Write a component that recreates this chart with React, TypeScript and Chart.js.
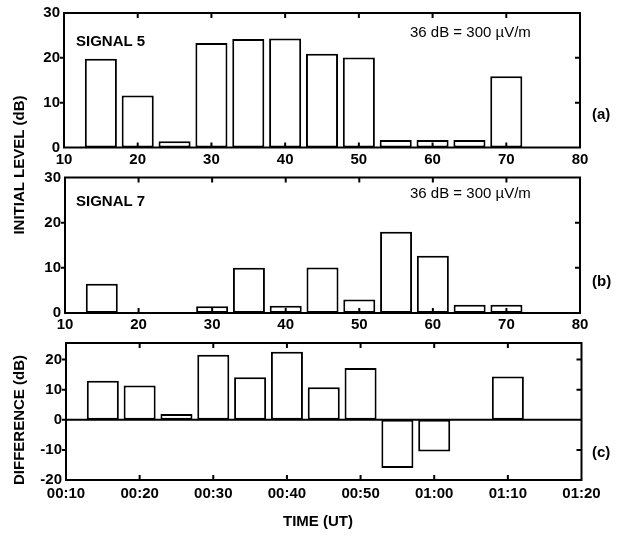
import { useEffect, useRef } from "react";
import { Chart, registerables } from "chart.js";

Chart.register(...registerables);

// Sample times (minutes after 00:00 UT), one bar per 5-minute slot
const minutes = [15, 20, 25, 30, 35, 40, 45, 50, 55, 60, 65, 70];
// Initial level of each signal, dB above 300 µV/m reference
const signal5 = [19.8, 11.6, 1.4, 23.3, 24.2, 24.3, 20.9, 20.1, 1.7, 1.7, 1.7, 15.9];
const signal7 = [6.5, null, null, 1.5, 10.0, 1.6, 10.1, 3.0, 18.0, 12.7, 1.8, 1.8];
// Signal 5 minus signal 7
const difference = [13.0, 11.4, 1.9, 21.6, 14.1, 22.6, 10.8, 17.2, -16.0, -10.5, null, 14.4];

const levelTicks = [0, 10, 20, 30];
const diffTicks = [-20, -10, 0, 10, 20];
const timeTicks = [10, 20, 30, 40, 50, 60, 70, 80];

const levelTitle = "INITIAL LEVEL (dB)";
const diffTitle = "DIFFERENCE (dB)";
const timeTitle = "TIME (UT)";
const refNote = "36 dB = 300 \u00b5V/m";

const W = 617;
const H = 536;
const Y_AXIS_W = 40;
const X_AXIS_H = 24;
const FONT = "'Liberation Sans', Arial, sans-serif";

type Area = { left: number; top: number; right: number; bottom: number };

type Panel = {
  area: Area;
  values: (number | null)[];
  yMin: number;
  yMax: number;
  yTicks: number[];
  clock: boolean;
  labelGap: number;
  tag: string;
  tagY: number;
  signal?: string;
  signalY?: number;
  noteY?: number;
  draw?: (ctx: CanvasRenderingContext2D) => void;
};

const clockLabel = (m: number) => {
  const h = Math.floor(m / 60);
  const mm = m % 60;
  return `${String(h).padStart(2, "0")}:${String(mm).padStart(2, "0")}`;
};

const rotatedText = (ctx: CanvasRenderingContext2D, text: string, x: number, y: number) => {
  ctx.save();
  ctx.translate(x, y);
  ctx.rotate(-Math.PI / 2);
  ctx.textAlign = "center";
  ctx.textBaseline = "middle";
  ctx.font = `bold 15px ${FONT}`;
  ctx.fillText(text, 0, 0);
  ctx.restore();
};

const panels: Panel[] = [
  {
    area: { left: 64, top: 13, right: 580, bottom: 147.5 },
    values: signal5,
    yMin: 0,
    yMax: 30,
    yTicks: levelTicks,
    clock: false,
    labelGap: 3,
    tag: "(a)",
    tagY: 115,
    signal: "SIGNAL 5",
    signalY: 42,
    noteY: 33,
    draw: (ctx) => rotatedText(ctx, levelTitle, 20, 165),
  },
  {
    area: { left: 65, top: 177.5, right: 580, bottom: 313 },
    values: signal7,
    yMin: 0,
    yMax: 30,
    yTicks: levelTicks,
    clock: false,
    labelGap: 3,
    tag: "(b)",
    tagY: 282,
    signal: "SIGNAL 7",
    signalY: 202,
    noteY: 194,
  },
  {
    area: { left: 66, top: 343, right: 581.5, bottom: 480 },
    values: difference,
    yMin: -20,
    yMax: 25.5,
    yTicks: diffTicks,
    clock: true,
    labelGap: 5,
    tag: "(c)",
    tagY: 453,
    draw: (ctx) => {
      rotatedText(ctx, diffTitle, 20, 420);
      ctx.save();
      ctx.font = `bold 15px ${FONT}`;
      ctx.textAlign = "center";
      ctx.textBaseline = "middle";
      ctx.fillText(timeTitle, 318, 522);
      ctx.restore();
    },
  },
];

const framePlugin = (p: Panel) => ({
  id: "frame",
  afterDraw(chart: Chart) {
    const ctx = chart.ctx;
    const a = chart.chartArea;
    const xs = chart.scales.x;
    const ys = chart.scales.y;
    ctx.save();
    ctx.strokeStyle = "#000";
    ctx.fillStyle = "#000";
    ctx.lineWidth = 2;
    ctx.strokeRect(a.left, a.top, a.right - a.left, a.bottom - a.top);
    ctx.beginPath();
    for (const t of timeTicks) {
      if (t === timeTicks[0] || t === timeTicks[timeTicks.length - 1]) continue;
      const x = xs.getPixelForValue(t);
      ctx.moveTo(x, a.top);
      ctx.lineTo(x, a.top + 5);
      ctx.moveTo(x, a.bottom);
      ctx.lineTo(x, a.bottom - 5);
    }
    for (const t of p.yTicks) {
      if (t === p.yMin || t === p.yMax) continue;
      const y = ys.getPixelForValue(t);
      ctx.moveTo(a.left - 4, y);
      ctx.lineTo(a.left, y);
      ctx.moveTo(a.right, y);
      ctx.lineTo(a.right - 5, y);
    }
    if (p.yMin < 0) {
      const y0 = ys.getPixelForValue(0);
      ctx.moveTo(a.left, y0);
      ctx.lineTo(a.right, y0);
    }
    ctx.stroke();

    ctx.textBaseline = "middle";
    if (p.signal) {
      ctx.font = `bold 15px ${FONT}`;
      ctx.textAlign = "left";
      ctx.fillText(p.signal, 76, p.signalY!);
      ctx.font = `15px ${FONT}`;
      ctx.fillText(refNote, 410, p.noteY!);
    }
    ctx.font = `bold 15px ${FONT}`;
    ctx.textAlign = "left";
    ctx.fillText(p.tag, 592, p.tagY);
    if (p.draw) p.draw(ctx);
    ctx.restore();
  },
});

function PanelChart({ p }: { p: Panel }) {
  const ref = useRef<HTMLCanvasElement>(null);
  useEffect(() => {
    const canvas = ref.current;
    if (!canvas) return;
    const points = minutes
      .map((m, i) => ({ x: m, y: p.values[i] }))
      .filter((d) => d.y !== null) as { x: number; y: number }[];
    const tickFont = { family: FONT, size: 15, weight: "bold" as const };
    const chart = new Chart(canvas, {
      type: "bar",
      data: {
        datasets: [
          {
            data: points,
            backgroundColor: "#fff",
            borderColor: "#000",
            borderWidth: 2,
            borderSkipped: false,
            barPercentage: 0.87,
            categoryPercentage: 1,
          },
        ],
      },
      options: {
        animation: false,
        responsive: false,
        devicePixelRatio: 1,
        events: [],
        layout: {
          padding: {
            left: p.area.left - Y_AXIS_W,
            top: p.area.top,
            right: W - p.area.right,
            bottom: H - p.area.bottom - X_AXIS_H,
          },
        },
        plugins: { legend: { display: false }, tooltip: { enabled: false } },
        scales: {
          x: {
            type: "linear",
            min: 10,
            max: 80,
            offset: false,
            grid: { display: false, drawTicks: false },
            border: { display: false },
            afterBuildTicks: (s: any) => {
              s.ticks = timeTicks.map((v) => ({ value: v }));
            },
            afterFit: (s: any) => {
              s.height = X_AXIS_H;
            },
            ticks: {
              color: "#000",
              font: tickFont,
              padding: p.labelGap,
              maxRotation: 0,
              autoSkip: false,
              callback: (v: any) => (p.clock ? clockLabel(Number(v)) : String(v)),
            },
          },
          y: {
            type: "linear",
            min: p.yMin,
            max: p.yMax,
            grid: { display: false, drawTicks: false },
            border: { display: false },
            afterBuildTicks: (s: any) => {
              s.ticks = p.yTicks.map((v) => ({ value: v }));
            },
            afterFit: (s: any) => {
              s.width = Y_AXIS_W;
            },
            ticks: { color: "#000", font: tickFont, padding: 4, autoSkip: false },
          },
        },
      },
      plugins: [framePlugin(p)],
    });
    return () => chart.destroy();
  }, [p]);
  return (
    <canvas
      ref={ref}
      width={W}
      height={H}
      style={{ position: "absolute", left: 0, top: 0, width: W, height: H }}
    />
  );
}

export default function App() {
  return (
    <div style={{ position: "absolute", left: 0, top: 0, width: W, height: H, background: "#fff" }}>
      {panels.map((p) => (
        <PanelChart key={p.tag} p={p} />
      ))}
    </div>
  );
}
